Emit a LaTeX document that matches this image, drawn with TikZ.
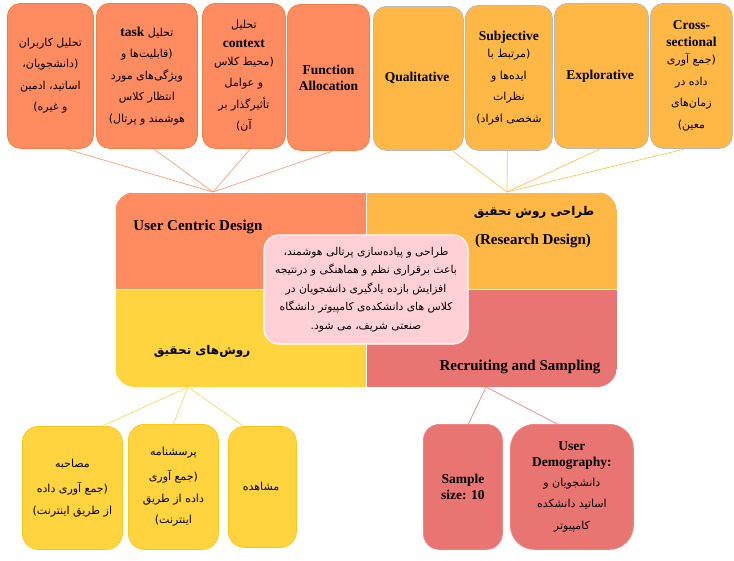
\documentclass[tikz,border=0pt]{standalone}
\usepackage{fontspec}
\setmainfont{Liberation Serif}
\newfontfamily\farsi[Script=Arabic]{DejaVu Sans}
\TeXXeTstate=1
\usepackage{xcolor}
\usetikzlibrary{positioning, calc}

\definecolor{ucdfill}{HTML}{FF8C61}
\definecolor{ucdline}{HTML}{F47E45}
\definecolor{rdfill}{HTML}{FFB845}
\definecolor{rdline}{HTML}{FFC257}
\definecolor{rmfill}{HTML}{FFD43F}
\definecolor{rmline}{HTML}{FFC61A}
\definecolor{rsfill}{HTML}{E87572}
\definecolor{rsline}{HTML}{EF8583}
\definecolor{goalfill}{HTML}{FFD0D6}

% one right-to-left line of Persian text
\newcommand{\fal}[1]{{\farsi\beginR #1\endR}}
% bold latin words inside the cards
\newcommand{\enw}[1]{{\fontsize{13.5}{15}\selectfont\rmfamily\bfseries #1}}

\begin{document}
\begin{tikzpicture}[
    x=1pt, y=-1pt,
    card/.style={
        rectangle, rounded corners=13pt, anchor=north west,
        align=center, inner sep=2pt, line width=0.8pt,
        font=\fontsize{11}{21.5}\selectfont
    },
    ucdcard/.style={card, fill=ucdfill, draw=ucdline},
    rdcard/.style={card, fill=rdfill, draw=gray!55},
    rmcard/.style={card, fill=rmfill, draw=rmline, rounded corners=16pt},
    rscard/.style={card, fill=rsfill, draw=rsline, rounded corners=16pt},
    quad/.style={rectangle, anchor=north west, inner sep=0pt, draw=white, line width=0.8pt},
    quadtext/.style={font=\fontsize{15}{28}\selectfont\bfseries, align=center},
    fatitle/.style={font=\fontsize{12}{28}\selectfont\bfseries, align=center},
    link/.style={line width=0.7pt}
]
    \useasboundingbox (0,0) rectangle (734,560);

    % user centric design
    \node[ucdcard, minimum width=86, minimum height=145] (users) at (7,3) {
        \fal{تحلیل کاربران}\\
        \fal{(دانشجویان،}\\
        \fal{اساتید، ادمین}\\
        \fal{و غیره)}
    };
    \node[ucdcard, minimum width=101, minimum height=145] (task) at (96,3) {
        \fal{تحلیل \enw{task}}\\
        \fal{(قابلیت‌ها و}\\
        \fal{ویژگی‌های مورد}\\
        \fal{انتظار کلاس}\\
        \fal{هوشمند و پرتال)}
    };
    \node[ucdcard, minimum width=83, minimum height=145] (context) at (202,3) {
        \fal{تحلیل}\\[-2pt]
        \enw{context}\\[-4pt]
        \fal{(محیط کلاس}\\
        \fal{و عوامل}\\
        \fal{تأثیرگذار بر}\\
        \fal{آن)}
    };
    \node[ucdcard, minimum width=82, minimum height=146] (function) at (287,4) {
        \enw{Function}\\[-5.5pt]
        \enw{Allocation}
    };

    % research design
    \node[rdcard, minimum width=90, minimum height=144] (qualitative) at (373,6) {
        \enw{Qualitative}
    };
    \node[rdcard, minimum width=87, minimum height=145] (subjective) at (465,5) {
        \enw{Subjective}\\[-4pt]
        \fal{(مرتبط با}\\
        \fal{ایده‌ها و}\\
        \fal{نظرات}\\
        \fal{شخصی افراد)}
    };
    \node[rdcard, minimum width=94, minimum height=145] (explorative) at (554,3) {
        \enw{Explorative}
    };
    \node[rdcard, minimum width=82, minimum height=145] (crosssec) at (650,3) {
        \enw{Cross-}\\[-5pt]
        \enw{sectional}\\[-4pt]
        \fal{(جمع آوری}\\
        \fal{داده در}\\
        \fal{زمان‌های}\\
        \fal{معین)}
    };

    % research methods
    \node[rmcard, minimum width=100, minimum height=123] (interview) at (22,426) {
        \fal{مصاحبه}\\[4pt]
        \fal{(جمع آوری داده}\\
        \fal{از طریق اینترنت)}
    };
    \node[rmcard, minimum width=90, minimum height=125] (survey) at (128,424) {
        \fal{پرسشنامه}\\[4pt]
        \fal{(جمع آوری}\\
        \fal{داده از طریق}\\
        \fal{اینترنت)}
    };
    \node[rmcard, minimum width=68, minimum height=121] (observe) at (228,426) {
        \fal{مشاهده}
    };

    % recruiting and sampling
    \node[rscard, minimum width=79, minimum height=125] (sample) at (423,424) {
        \enw{Sample}\\[-5.5pt]
        \enw{size: 10}
    };
    \node[rscard, minimum width=123, minimum height=125, rounded corners=24pt] (demography) at (510,424) {
        \enw{User}\\[-5.5pt]
        \enw{Demography:}\\[-2pt]
        \fal{دانشجویان و}\\
        \fal{اساتید دانشکده}\\
        \fal{کامپیوتر}
    };

    % central block
    \begin{scope}
        \clip[rounded corners=20pt] (115,192) rectangle (617,387);
        \node[quad, fill=ucdfill, minimum width=251, minimum height=97] (ucd) at (115,192) {};
        \node[quad, fill=rdfill, minimum width=251, minimum height=97] (rd) at (366,192) {};
        \node[quad, fill=rmfill, minimum width=251, minimum height=98] (rm) at (115,289) {};
        \node[quad, fill=rsfill, minimum width=251, minimum height=98] (rs) at (366,289) {};
    \end{scope}

    \node[quadtext] (ucdlabel) at (198,227) {User Centric Design};
    \node[fatitle] (rdtitle) at (534,212) {\fal{طراحی روش تحقیق}};
    \node[quadtext] (rdlabel) at (533,241) {(Research Design)};
    \node[fatitle] (rmlabel) at (202,351) {\fal{روش‌های تحقیق}};
    \node[quadtext] (rslabel) at (520,367) {Recruiting and Sampling};

    \node[rectangle, rounded corners=15pt, fill=goalfill, draw=white, line width=1.2pt,
          minimum width=204, minimum height=109, align=center,
          font=\fontsize{10.8}{18.5}\selectfont] (goal) at (366,289.5) {
        \fal{طراحی و پیاده‌سازی پرتالی هوشمند،}\\
        \fal{باعث برقراری نظم و هماهنگی و درنتیجه}\\
        \fal{افزایش بازده یادگیری دانشجویان در}\\
        \fal{کلاس های دانشکده‌ی کامپیوتر دانشگاه}\\
        \fal{صنعتی شریف، می شود.}
    };

    % hubs on the block edge
    \coordinate (ucdhub) at (213,192);
    \coordinate (rdhub) at (507,192);
    \coordinate (rmhub) at (188,387);
    \coordinate (rshub) at (486,387);

    \draw[link, draw=ucdfill!85!white] ([xshift=15pt]users.south) -- (ucdhub);
    \draw[link, draw=ucdfill!85!white] ([xshift=6.5pt]task.south) -- (ucdhub);
    \draw[link, draw=ucdfill!85!white] ([xshift=6.5pt]context.south) -- (ucdhub);
    \draw[link, draw=ucdfill!85!white] ([xshift=5pt]function.south) -- (ucdhub);

    \draw[link, draw=rdline] ([xshift=34pt]qualitative.south) -- (rdhub);
    \draw[link, draw=rdline] ([xshift=-1.5pt]subjective.south) -- (rdhub);
    \draw[link, draw=rdline] ([xshift=-1pt]explorative.south) -- (rdhub);
    \draw[link, draw=rdline] ([xshift=-6pt]crosssec.south) -- (rdhub);

    \draw[link, draw=rmline!70!white] (rmhub) -- ([xshift=30pt]interview.north);
    \draw[link, draw=rmline!70!white] (rmhub) -- (survey.north);
    \draw[link, draw=rmline!70!white] (rmhub) -- ([xshift=-19pt]observe.north);

    \draw[link, draw=rsline] (rshub) -- ([xshift=5.5pt]sample.north);
    \draw[link, draw=rsline] (rshub) -- ([xshift=-14.5pt]demography.north);
\end{tikzpicture}
\end{document}
